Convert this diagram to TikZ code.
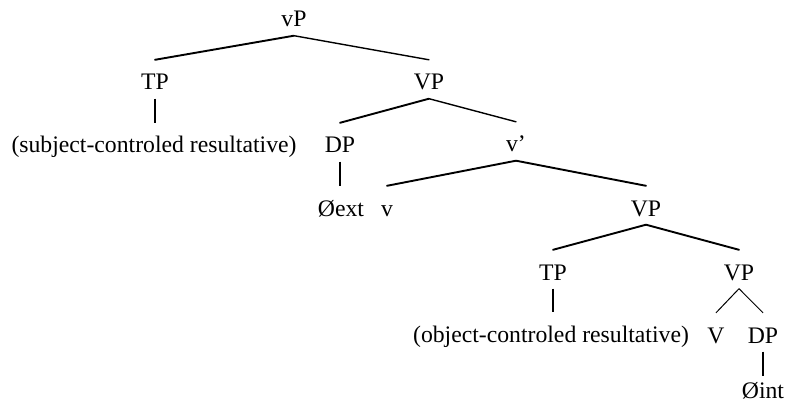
\documentclass[tikz,border=0pt]{standalone}
\usepackage{fontspec}
\setmainfont{Liberation Serif}
\begin{document}
\begin{tikzpicture}[x=1pt,y=-1pt,
  lbl/.style={anchor=base, font=\fontsize{23.7}{28}\selectfont, text height=25.5pt, text depth=4pt, inner xsep=0pt, inner ysep=4.5pt},
  lowlbl/.style={lbl, text height=17pt},
  lbranch/.style={line width=1.9pt, line cap=round, line join=round},
  rbranch/.style={line width=1.4pt, line cap=round, line join=round},
  stem/.style={line width=1.1pt},
  thinbranch/.style={line width=1pt}]
\useasboundingbox (0,0) rectangle (785,409);
% nodes
\node[lbl] (vP) at (294,27) {vP};
\node[lbl] (TP1) at (155,90) {TP};
\node[lbl] (VP1) at (429,90) {VP};
\node[lbl] (subj) at (154,153) {(subject-controled resultative)};
\node[lbl] (DP1) at (340,153) {DP};
\node[lbl] (vbar) at (516,152) {v'};
\node[lbl] (ext) at (341,216) {Øext};
\node[lbl] (v) at (387,216) {v};
\node[lbl] (VP2) at (646,216) {VP};
\node[lbl] (TP2) at (553,280) {TP};
\node[lbl] (VP3) at (739,280) {VP};
\node[lbl] (obj) at (551,342) {(object-controled resultative)};
\node[lbl] (V) at (716,343) {V};
\node[lbl] (DP2) at (763,343) {DP};
\node[lowlbl] (int) at (763,398) {Øint};
% connectors
\draw[lbranch] (vP.south) -- (TP1.north);
\draw[rbranch] (vP.south) -- (VP1.north);
\draw[stem] (TP1.south) -- (TP1.south |- subj.north);
\draw[lbranch] (VP1.south) -- (DP1.north);
\draw[rbranch] (VP1.south) -- (vbar.north);
\draw[stem] (DP1.south) -- (DP1.south |- ext.north);
\draw[lbranch] (vbar.south) -- (v.north);
\draw[lbranch] (vbar.south) -- (VP2.north);
\draw[lbranch] (VP2.south) -- (TP2.north);
\draw[lbranch] (VP2.south) -- (VP3.north);
\draw[stem] (TP2.south) -- (TP2.south |- obj.north);
\draw[thinbranch] (VP3.south) -- (V.north);
\draw[thinbranch] (VP3.south) -- (DP2.north);
\draw[stem] (DP2.south) -- (int.north);
\end{tikzpicture}
\end{document}
